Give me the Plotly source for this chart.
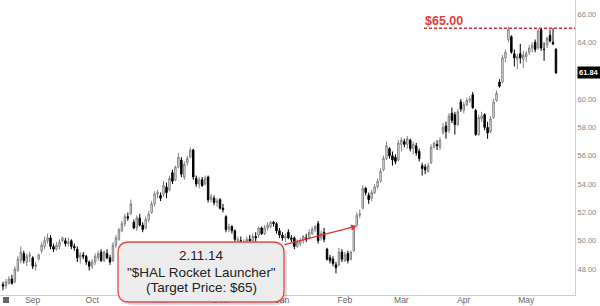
import plotly.graph_objects as go
import pandas as pd

# ---------------- data ----------------
holidays = ['2013-09-02', '2013-11-28', '2013-12-25', '2014-01-01',
            '2014-01-20', '2014-02-17', '2014-04-18']
days = pd.bdate_range('2013-08-19', '2014-05-15')
days = days[~days.isin(pd.to_datetime(holidays))]
dates = [d.strftime('%Y-%m-%d') for d in days]

opens = [46.9, 46.8, 47.0, 47.3, 47.1, 47.9, 48.6, 49.1, 48.5, 48.9,
         48.8, 48.2, 48.7, 49.3, 49.6, 50.0, 50.2, 49.6, 49.4, 49.6,
         50.0, 50.0, 49.8, 50.0, 49.6, 49.4, 48.8, 49.0, 48.9, 48.5,
         48.2, 48.5, 48.8, 49.2, 48.6, 49.1, 48.8, 48.6, 49.7, 50.1,
         50.7, 51.2, 51.7, 51.9, 51.3, 50.9, 51.6, 51.1, 50.9, 51.5,
         52.0, 52.6, 53.3, 53.2, 53.3, 53.8, 53.6, 54.8, 54.3, 55.2,
         55.7, 54.5, 55.5, 55.9, 56.4, 54.4, 54.0, 54.3, 54.0, 54.5,
         52.9, 53.0, 52.7, 52.9, 52.3, 51.7, 50.8, 51.0, 50.7, 50.0,
         50.0, 49.8, 49.9, 50.1, 50.0, 50.3, 50.4, 50.9, 50.5, 50.9,
         51.0, 51.3, 51.2, 50.7, 50.4, 50.2, 50.6, 50.2, 50.2, 49.6,
         49.8, 50.0, 50.2, 50.2, 50.5, 50.8, 51.2, 50.2, 50.6, 49.4,
         48.8, 48.7, 48.3, 48.3, 49.2, 48.6, 49.1, 48.7, 49.3, 51.1,
         51.8, 52.3, 53.7, 53.2, 53.0, 53.4, 53.8, 54.2, 55.0, 55.8,
         56.5, 56.0, 55.9, 55.7, 56.8, 57.0, 56.8, 57.1, 56.5, 56.7,
         56.3, 55.3, 55.2, 54.9, 55.5, 56.6, 56.8, 56.6, 57.6, 58.1,
         57.8, 59.0, 58.9, 58.2, 59.8, 59.2, 59.6, 59.9, 60.3, 59.2,
         57.5, 58.6, 58.9, 58.0, 57.7, 58.7, 59.9, 61.2, 61.2, 62.9,
         64.2, 64.4, 63.2, 62.8, 63.2, 62.8, 63.0, 63.3, 63.6, 64.0,
         63.6, 64.9, 63.5, 63.8, 64.5, 64.0, 63.5]

highs = [47.1, 47.3, 47.5, 47.6, 48.2, 48.9, 49.6, 49.3, 49.1, 49.2,
         48.9, 48.5, 49.1, 49.9, 50.3, 50.5, 50.4, 49.8, 49.9, 50.1,
         50.3, 50.2, 50.2, 50.1, 49.8, 49.6, 49.2, 49.2, 49.0, 48.6,
         48.7, 49.1, 49.3, 49.4, 49.3, 49.4, 49.0, 49.9, 50.4, 50.9,
         51.4, 51.9, 52.0, 52.9, 51.5, 51.8, 51.9, 51.3, 51.7, 52.1,
         52.8, 53.5, 53.6, 53.4, 54.2, 54.1, 54.6, 55.0, 55.3, 56.2,
         55.9, 55.6, 56.0, 56.6, 56.5, 54.6, 54.5, 54.5, 54.6, 54.6,
         53.3, 53.2, 53.0, 53.0, 52.6, 51.8, 51.2, 51.1, 50.8, 50.3,
         50.3, 50.1, 50.3, 50.4, 50.5, 50.6, 51.0, 51.0, 51.1, 51.3,
         51.4, 51.4, 51.3, 50.9, 50.6, 50.5, 50.8, 50.4, 50.3, 50.1,
         50.2, 50.4, 50.5, 50.8, 51.0, 51.1, 51.4, 50.7, 50.9, 49.5,
         49.0, 48.9, 48.5, 49.5, 49.4, 49.2, 49.3, 49.3, 51.0, 52.0,
         52.2, 53.9, 53.8, 53.4, 53.6, 54.0, 54.4, 55.1, 56.0, 57.0,
         56.6, 56.3, 56.1, 57.1, 57.3, 57.2, 57.4, 57.2, 57.0, 56.9,
         56.5, 55.5, 55.4, 55.5, 56.8, 57.0, 57.1, 57.3, 58.3, 58.4,
         59.0, 59.4, 59.1, 59.3, 60.0, 59.8, 60.1, 60.2, 60.5, 59.3,
         58.9, 59.1, 59.0, 58.4, 58.8, 60.0, 60.6, 61.4, 63.1, 63.5,
         65.1, 64.5, 63.5, 63.2, 63.9, 63.4, 63.4, 63.8, 64.0, 64.2,
         65.0, 65.0, 64.0, 64.4, 64.9, 65.0, 63.6]

lows = [46.5, 46.6, 46.9, 46.9, 47.0, 47.8, 48.4, 48.4, 48.2, 48.5,
        48.0, 47.9, 48.6, 49.1, 49.4, 49.8, 49.4, 49.2, 49.3, 49.4,
        49.9, 49.6, 49.6, 49.4, 49.3, 48.5, 48.4, 48.7, 48.3, 47.9,
        48.0, 48.3, 48.6, 48.5, 48.5, 48.7, 48.3, 48.5, 49.5, 50.0,
        50.6, 51.0, 51.4, 51.8, 50.8, 50.7, 51.0, 50.6, 50.8, 51.3,
        51.9, 52.4, 53.0, 52.8, 53.1, 53.0, 53.5, 54.0, 54.2, 55.1,
        54.5, 54.3, 55.3, 55.8, 54.3, 53.8, 53.7, 53.8, 53.9, 52.7,
        52.7, 52.5, 52.4, 52.2, 52.0, 50.6, 50.6, 50.5, 49.9, 49.8,
        49.6, 49.6, 49.7, 49.8, 49.9, 49.9, 50.2, 50.4, 50.4, 50.7,
        50.9, 51.0, 50.5, 50.2, 50.0, 49.9, 50.1, 49.9, 49.4, 49.5,
        49.6, 49.8, 49.9, 50.1, 50.4, 50.6, 49.8, 50.0, 49.9, 48.6,
        48.4, 48.2, 47.7, 48.2, 48.5, 48.5, 48.4, 48.6, 49.2, 51.0,
        51.6, 52.2, 53.2, 52.6, 52.8, 53.3, 53.7, 54.1, 54.9, 55.7,
        55.8, 55.3, 55.4, 55.6, 56.3, 56.6, 56.5, 56.3, 56.1, 56.0,
        55.6, 54.6, 54.7, 54.8, 55.4, 56.5, 56.4, 56.4, 57.5, 57.2,
        57.6, 58.3, 57.5, 58.1, 59.1, 59.0, 59.5, 59.7, 59.3, 57.4,
        57.4, 58.4, 57.8, 57.2, 57.6, 58.6, 59.8, 60.8, 61.1, 62.6,
        64.0, 63.2, 62.3, 62.1, 62.5, 62.2, 62.6, 63.1, 63.3, 63.3,
        63.5, 63.4, 62.7, 63.6, 64.0, 63.8, 61.8]

closes = [46.8, 47.1, 47.3, 47.0, 48.0, 48.7, 49.2, 48.6, 48.9, 49.0,
          48.2, 48.3, 49.0, 49.7, 50.0, 50.2, 49.6, 49.4, 49.7, 49.9,
          50.2, 49.8, 49.9, 49.6, 49.5, 48.8, 49.0, 48.9, 48.5, 48.2,
          48.5, 48.9, 49.1, 48.6, 49.2, 48.8, 48.5, 49.7, 50.2, 50.8,
          51.2, 51.7, 51.6, 52.6, 50.9, 51.6, 51.1, 50.8, 51.5, 51.9,
          52.6, 53.3, 53.4, 53.0, 53.9, 53.4, 54.4, 54.2, 55.2, 55.9,
          54.7, 55.4, 55.8, 56.4, 54.5, 54.0, 54.3, 53.9, 54.4, 52.9,
          53.1, 52.7, 52.8, 52.3, 52.2, 50.8, 51.0, 50.7, 50.1, 50.1,
          49.8, 49.9, 50.1, 50.0, 50.3, 50.2, 50.9, 50.5, 50.9, 51.1,
          51.3, 51.2, 50.7, 50.4, 50.2, 50.3, 50.2, 50.1, 49.6, 49.9,
          50.0, 50.3, 50.1, 50.6, 50.8, 51.0, 50.0, 50.5, 50.1, 48.7,
          48.6, 48.4, 48.1, 49.2, 48.7, 49.0, 48.6, 49.2, 50.9, 51.8,
          51.9, 53.7, 53.4, 52.9, 53.4, 53.8, 54.2, 54.9, 55.8, 56.7,
          56.0, 55.7, 55.6, 56.9, 57.1, 56.8, 57.2, 56.5, 56.8, 56.2,
          55.8, 55.1, 55.0, 55.3, 56.6, 56.9, 56.7, 57.1, 58.0, 57.7,
          58.8, 58.5, 58.2, 59.1, 59.3, 59.6, 59.9, 60.0, 59.4, 57.5,
          58.7, 58.8, 58.0, 57.6, 58.6, 59.8, 60.4, 60.9, 62.9, 63.3,
          64.9, 63.3, 62.9, 63.0, 62.9, 63.1, 63.2, 63.6, 63.8, 63.5,
          64.8, 63.6, 63.5, 64.3, 64.1, 63.9, 61.84]

price_ticks = [48, 50, 52, 54, 56, 58, 60, 64, 66]  # 62.00 is hidden by the last-price tag
target_price = 65.00
callout_lines = ['2.11.14', '"$HAL Rocket Launcher"', '(Target Price: $65)']

# month tick labels at the first trading day of each new month
tick_dates, tick_labels = [], []
for k in range(1, len(days)):
    if days[k].month != days[k - 1].month:
        tick_dates.append(dates[k])
        tick_labels.append(days[k].strftime('%b'))

# ---------------- figure ----------------
PW, PH = 575.0, 295.0  # plot area size in px


def px(x):
    return x / PW


def py(y):
    return (PH - y) / PH


fig = go.Figure()
fig.add_trace(go.Candlestick(
    x=dates, open=opens, high=highs, low=lows, close=closes,
    increasing=dict(line=dict(color='#808080', width=1), fillcolor='#ffffff'),
    decreasing=dict(line=dict(color='#000000', width=1), fillcolor='#000000'),
    whiskerwidth=0, showlegend=False, name='HAL'))


def rounded(l, t, r, b, rad):
    pts = [
        f"M {px(l + rad)} {py(t)}",
        f"L {px(r - rad)} {py(t)}",
        f"Q {px(r)} {py(t)} {px(r)} {py(t + rad)}",
        f"L {px(r)} {py(b - rad)}",
        f"Q {px(r)} {py(b)} {px(r - rad)} {py(b)}",
        f"L {px(l + rad)} {py(b)}",
        f"Q {px(l)} {py(b)} {px(l)} {py(b - rad)}",
        f"L {px(l)} {py(t + rad)}",
        f"Q {px(l)} {py(t)} {px(l + rad)} {py(t)}",
        "Z"]
    return " ".join(pts)


shapes = [
    dict(type='path', xref='paper', yref='paper', path=rounded(121, 245, 287, 305, 11),
         fillcolor='rgba(0,0,0,0.13)', line=dict(width=0), layer='above'),
    dict(type='path', xref='paper', yref='paper', path=rounded(118, 242, 284, 302, 11),
         fillcolor='#ececec', line=dict(color='#e8484a', width=1.3), layer='above'),
    dict(type='line', xref='paper', yref='y', x0=px(424), x1=1.0,
         y0=target_price, y1=target_price,
         line=dict(color='#d8302f', width=1.5, dash='3px,2px')),
    dict(type='rect', xref='paper', yref='paper', x0=px(3), x1=px(9),
         y0=py(303), y1=py(297), fillcolor='#666666', line=dict(width=0)),
]

annotations = [
    dict(xref='paper', yref='paper', x=px(423), y=py(21.5), xanchor='left',
         yanchor='middle', showarrow=False, text=f'<b>${target_price:.2f}</b>',
         font=dict(family='Arial', size=12.5, color='#e43b3b')),
    dict(xref='paper', yref='y', x=1.0, y=closes[-1], xanchor='left', yanchor='middle',
         xshift=2, showarrow=False, text=f'<b>{closes[-1]:.2f}</b>',
         bgcolor='#000000', borderpad=1,
         font=dict(family='Arial', size=7.5, color='#ffffff')),
    dict(xref='paper', yref='paper', x=px(357), y=py(226), ax=-74, ay=19,
         text='', showarrow=True, arrowhead=2, arrowsize=1, arrowwidth=1.2,
         arrowcolor='#e53030'),
]
for line_text, yy in zip(callout_lines, [255.5, 272, 287.5]):
    annotations.append(dict(xref='paper', yref='paper', x=px(201), y=py(yy),
                            xanchor='center', yanchor='middle', showarrow=False,
                            text=line_text,
                            font=dict(family='Arial', size=13.5, color='#222222')))

fig.update_layout(
    width=600, height=306,
    margin=dict(l=0, r=25, t=0, b=11),
    paper_bgcolor='#ffffff', plot_bgcolor='#ffffff',
    shapes=shapes, annotations=annotations,
    xaxis=dict(type='category', range=[-1.0, 192.4], tickmode='array',
               tickvals=tick_dates, ticktext=tick_labels, showgrid=False,
               showline=True, linecolor='#d0d0d0', linewidth=1, ticks='',
               ticklabelstandoff=-3,
               tickfont=dict(family='Arial', size=8.5, color='#666666'),
               rangeslider=dict(visible=False), automargin=False, zeroline=False),
    yaxis=dict(side='right', range=[46.17, 66.99], tickmode='array',
               tickvals=price_ticks, ticktext=[f'{v:.2f}' for v in price_ticks],
               showgrid=False, showline=True, linecolor='#d0d0d0', linewidth=1,
               ticks='', tickfont=dict(family='Arial', size=7.5, color='#888888'),
               automargin=False, zeroline=False),
)

fig.write_html('out.html')
